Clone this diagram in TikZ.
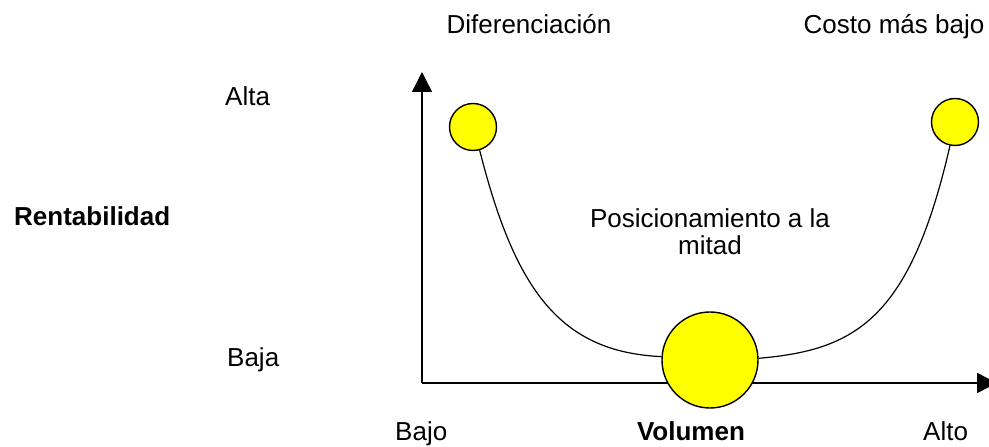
\documentclass[tikz,border=0pt]{standalone}
\usepackage{fontspec}
\setmainfont{Liberation Sans}
\usetikzlibrary{arrows.meta}
\definecolor{rvYellow}{HTML}{FFFF00}
\tikzset{
  rv axis/.style={draw=black, line width=1.4pt},
  rv curve/.style={draw=black, line width=1.2pt},
  rv dot/.style={circle, draw=black, fill=rvYellow, line width=1.4pt, inner sep=0pt},
  rv label/.style={font=\fontsize{26}{27}\selectfont, inner sep=0pt},
  rv bold label/.style={rv label, font=\fontsize{26}{27}\selectfont\bfseries},
}

\begin{document}
\begin{tikzpicture}[x=1pt,y=1pt]
  \useasboundingbox (0,0) rectangle (989,447);

  % Axes, both with a filled triangle at the end
  \coordinate (origin) at (422,64);
  \coordinate (ytop) at (422,375);
  \coordinate (xend) at (997,64);
  \draw[rv axis, -{Triangle[length=20pt,width=20pt]}] (origin) -- (ytop);
  \draw[rv axis, -{Triangle[length=20pt,width=20pt]}] (origin) -- (xend);

  % The three positions
  \node[rv dot, minimum size=47pt] (dif) at (473,320) {};
  \node[rv dot, minimum size=47pt] (low) at (955,325) {};
  \node[rv dot, minimum size=96pt] (mid) at (710,87) {};

  % U-shaped curve through them
  \draw[rv curve] (dif.-74) .. controls (515,157) and (560,95) .. (mid.176);
  \draw[rv curve] (mid.2) .. controls (855,97) and (910,127) .. (low.-102);

  % Labels
  \node[rv label, anchor=base] (tdif) at (529,413) {Diferenciación};
  \node[rv label, anchor=base] (tlow) at (894,413) {Costo más bajo};
  \node[rv label, anchor=base, align=center] (tmid) at (710,192) {Posicionamiento a la\\mitad};
  \node[rv label, anchor=base west] (alta) at (225,341) {Alta};
  \node[rv label, anchor=base west] (baja) at (227,80) {Baja};
  \node[rv bold label, anchor=base west] (rent) at (14,221) {Rentabilidad};
  \node[rv label, anchor=base west] (bajo) at (395,6) {Bajo};
  \node[rv bold label, anchor=base] (vol) at (691,6) {Volumen};
  \node[rv label, anchor=base west] (alto) at (923,6) {Alto};
\end{tikzpicture}
\end{document}
